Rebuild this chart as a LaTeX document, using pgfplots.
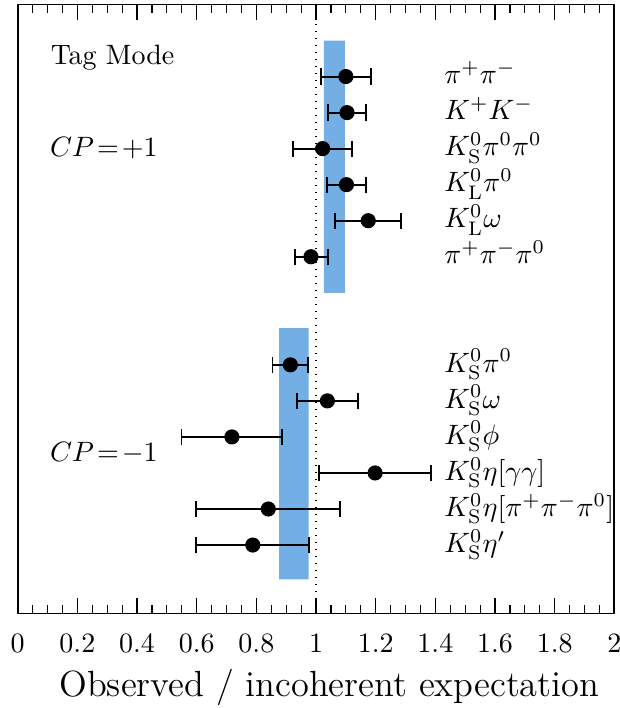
\documentclass[border=0pt]{standalone}
\usepackage{pgfplots}
\pgfplotsset{compat=1.18}
\usepackage{pgfplotstable}
\definecolor{bandblue}{RGB}{115,175,228}

\pgfplotstableread{
y    x      em     ep
-1   1.100  0.084  0.084
-2   1.104  0.063  0.063
-3   1.022  0.100  0.100
-4   1.102  0.065  0.065
-5   1.175  0.110  0.111
-6   0.983  0.052  0.056
}\cpplus
\pgfplotstableread{
y    x      em     ep
-9   0.914  0.060  0.058
-10  1.038  0.102  0.103
-11  0.718  0.169  0.168
-12  1.198  0.188  0.186
-13  0.840  0.243  0.241
-14  0.788  0.191  0.189
}\cpminus

\begin{document}
\begin{tikzpicture}
\begin{axis}[
  scale only axis,
  width=213.1pt, height=217.5pt,
  xmin=0, xmax=2, ymin=-15.9, ymax=1,
  xtick={0,0.2,0.4,0.6,0.8,1,1.2,1.4,1.6,1.8,2},
  xticklabels={0,0.2,0.4,0.6,0.8,1,1.2,1.4,1.6,1.8,2},
  minor x tick num=3,
  ytick=\empty,
  xtick pos=both,
  xticklabel pos=lower,
  tick align=inside,
  major tick length=5.7pt,
  minor tick length=3pt,
  every tick/.style={line width=0.4pt, black},
  axis line style={line width=0.7pt},
  xticklabel style={yshift=-3.6pt},
  xlabel={Observed / incoherent expectation},
  xlabel style={at={(rel axis cs:1,0)}, anchor=base east, xshift=-5.2pt, yshift=-29.7pt, font=\fontsize{13}{15}\selectfont, inner sep=0pt},
  clip=false,
]
% bands
\addplot[fill=bandblue, draw=none] coordinates {(1.026,0) (1.0965,0) (1.0965,-7) (1.026,-7) (1.026,0)};
\addplot[fill=bandblue, draw=none] coordinates {(0.8765,-7.98) (0.975,-7.98) (0.975,-14.95) (0.8765,-14.95) (0.8765,-7.98)};
% dotted line
\addplot[black, dotted, line width=0.5pt] coordinates {(1,-15.9) (1,1)};
% data
\addplot[only marks, mark=*, mark size=2.5pt, black,
  error bars/.cd, x dir=both, x explicit,
  error bar style={line width=0.7pt, black},
  error mark options={rotate=90, mark size=2.9pt, line width=0.7pt, black}]
  table[x=x, y=y, x error minus=em, x error plus=ep] {\cpplus};
\addplot[only marks, mark=*, mark size=2.5pt, black,
  error bars/.cd, x dir=both, x explicit,
  error bar style={line width=0.7pt, black},
  error mark options={rotate=90, mark size=2.9pt, line width=0.7pt, black}]
  table[x=x, y=y, x error minus=em, x error plus=ep] {\cpminus};
% left labels
\node[anchor=base west, inner sep=0pt] at (axis cs:0.109,-0.675) {Tag Mode};
\node[anchor=base west, inner sep=0pt] at (axis cs:0.1065,-3.22) {$CP\!=\!+1$};
\node[anchor=base west, inner sep=0pt] at (axis cs:0.1065,-11.69) {$CP\!=\!-1$};
% right labels
\node[anchor=base west, inner sep=0pt] at (axis cs:1.428,-1.2) {$\pi^{+}\pi^{-}$};
\node[anchor=base west, inner sep=0pt] at (axis cs:1.428,-2.2) {$K^{+}K^{-}$};
\node[anchor=base west, inner sep=0pt] at (axis cs:1.428,-3.2) {$K^{0}_{\mathrm{S}}\pi^{0}\pi^{0}$};
\node[anchor=base west, inner sep=0pt] at (axis cs:1.428,-4.2) {$K^{0}_{\mathrm{L}}\pi^{0}$};
\node[anchor=base west, inner sep=0pt] at (axis cs:1.428,-5.2) {$K^{0}_{\mathrm{L}}\omega$};
\node[anchor=base west, inner sep=0pt] at (axis cs:1.428,-6.2) {$\pi^{+}\pi^{-}\pi^{0}$};
\node[anchor=base west, inner sep=0pt] at (axis cs:1.428,-9.2) {$K^{0}_{\mathrm{S}}\pi^{0}$};
\node[anchor=base west, inner sep=0pt] at (axis cs:1.428,-10.2) {$K^{0}_{\mathrm{S}}\omega$};
\node[anchor=base west, inner sep=0pt] at (axis cs:1.428,-11.2) {$K^{0}_{\mathrm{S}}\phi$};
\node[anchor=base west, inner sep=0pt] at (axis cs:1.428,-12.2) {$K^{0}_{\mathrm{S}}\eta[\gamma\gamma]$};
\node[anchor=base west, inner sep=0pt] at (axis cs:1.428,-13.2) {$K^{0}_{\mathrm{S}}\eta[\pi^{+}\pi^{-}\pi^{0}]$};
\node[anchor=base west, inner sep=0pt] at (axis cs:1.428,-14.2) {$K^{0}_{\mathrm{S}}\eta'$};
\end{axis}
\pgfresetboundingbox
\path[use as bounding box] ([xshift=-6.32pt, yshift=-33.75pt]current axis.south west) rectangle ([xshift=1.96pt, yshift=1.61pt]current axis.north east);
\end{tikzpicture}
\end{document}
